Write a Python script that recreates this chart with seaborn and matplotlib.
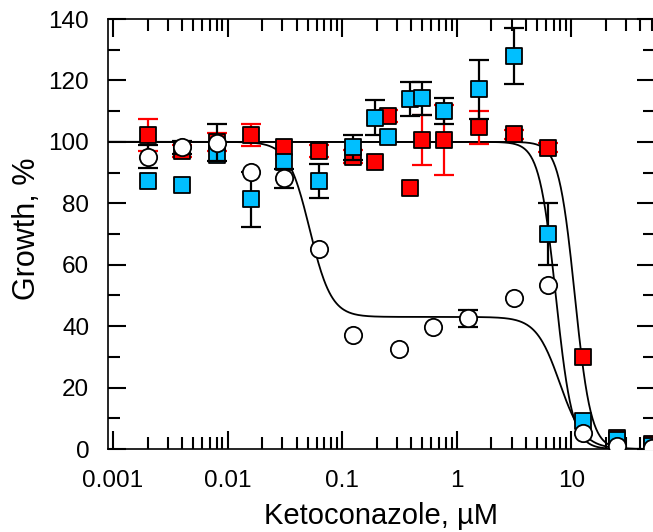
import numpy as np
import pandas as pd
import matplotlib
matplotlib.use("Agg")
import matplotlib.pyplot as plt
import seaborn as sns
from matplotlib.ticker import FixedLocator, FixedFormatter, MultipleLocator, NullFormatter

# ---------------- data ----------------
conc_sq = [0.002, 0.004, 0.008, 0.016, 0.031, 0.0625, 0.125, 0.195, 0.25, 0.39,
           0.5, 0.78, 1.5625, 3.125, 6.25, 12.5, 25, 50]
growth_red = [102.2, 97.0, 100.0, 102.2, 98.2, 97.1, 95.2, 93.3, 108.4, 84.9,
              100.6, 100.6, 104.7, 102.4, 98.1, 29.9, 3.7, 1.5]
err_red = [5.2, 2.0, 3.0, 3.6, 0, 2.0, 2.0, 0, 2.0, 0,
           8.0, 11.5, 5.5, 1.5, 1.5, 0, 0, 0]
growth_blue = [87.4, 85.8, 95.8, 81.3, 93.6, 87.2, 98.2, 107.9, 101.7, 113.9,
               114.2, 110.0, 117.1, 128.0, 70.0, 9.0, 2.9, 1.0]
err_blue = [0, 0, 0, 9.0, 0, 5.6, 4.0, 5.8, 0, 5.6,
            5.4, 4.3, 9.7, 9.1, 10.0, 0, 0, 0]
conc_circ = [0.002, 0.004, 0.008, 0.016, 0.031, 0.0625, 0.125, 0.3125, 0.625,
             1.25, 3.125, 6.25, 12.5, 25, 50]
growth_circ = [95.2, 98.2, 99.7, 90.3, 88.1, 65.2, 37.1, 32.5, 39.8,
               42.5, 49.3, 53.4, 5.1, 1.1, 0.4]
err_circ = [3.8, 2.0, 6.0, 0, 3.0, 0, 0, 0, 0,
            2.9, 0, 0, 0, 0, 0]

# fitted Hill-curve parameters: top, IC50, slope
fit_red = [100.0, 10.7, 6.2]
fit_blue = [100.0, 7.3, 6.0]
# biphasic fit for circles: (step1 amplitude, IC50, slope, plateau, IC50, slope)
fit_circ = [57.0, 0.052, 4.6, 43.0, 7.9, 4.2]

xtick_vals = [0.001, 0.01, 0.1, 1, 10]
xtick_labels = ["0.001", "0.01", "0.1", "1", "10"]
ytick_vals = [0, 20, 40, 60, 80, 100, 120, 140]

RED = "#FF0000"
BLUE = "#00BFFF"

# ---------------- style ----------------
sns.set_theme(style="ticks")
plt.rcParams["font.family"] = ["Liberation Sans", "DejaVu Sans"]
plt.rcParams["axes.linewidth"] = 1.2

fig = plt.figure(figsize=(6.53, 5.32), dpi=100)
ax = fig.add_axes([108 / 653, 83 / 532, 547 / 653, 430 / 532])
ax.set_facecolor("white")

# ---------------- curves ----------------
xc = np.logspace(np.log10(0.0009), np.log10(50), 600)

def hill(x, top, ic50, n):
    return top / (1.0 + (x / ic50) ** n)

curves = pd.DataFrame({
    "x": np.concatenate([xc, xc, xc]),
    "y": np.concatenate([
        hill(xc, *fit_red),
        hill(xc, *fit_blue),
        hill(xc, *fit_circ[:3]) + hill(xc, *fit_circ[3:]),
    ]),
    "fit": ["red"] * len(xc) + ["blue"] * len(xc) + ["circ"] * len(xc),
})
sns.lineplot(data=curves, x="x", y="y", units="fit", estimator=None,
             color="black", linewidth=1.3, ax=ax, zorder=1, legend=False)

# ---------------- points ----------------
def errs(xs, ys, es, color, z):
    xs = np.array(xs); ys = np.array(ys); es = np.array(es)
    m = es > 0
    ax.errorbar(xs[m], ys[m], yerr=es[m], fmt="none", ecolor=color,
                elinewidth=1.6, capsize=7, capthick=1.6, zorder=z)

errs(conc_sq, growth_red, err_red, RED, 1.5)
sns.scatterplot(x=conc_sq, y=growth_red, marker="s", s=145, color=RED,
                edgecolor="black", linewidth=1.3, ax=ax, zorder=2)
errs(conc_sq, growth_blue, err_blue, "black", 2.5)
sns.scatterplot(x=conc_sq, y=growth_blue, marker="s", s=145, color=BLUE,
                edgecolor="black", linewidth=1.3, ax=ax, zorder=3)
errs(conc_circ, growth_circ, err_circ, "black", 3.5)
sns.scatterplot(x=conc_circ, y=growth_circ, marker="o", s=155, color="white",
                edgecolor="black", linewidth=1.3, ax=ax, zorder=4)

# ---------------- axes ----------------
ax.set_xscale("log")
ax.set_xlim(0.000904, 53.6)
ax.set_ylim(0, 140)

ax.xaxis.set_major_locator(FixedLocator(xtick_vals))
ax.xaxis.set_major_formatter(FixedFormatter(xtick_labels))
minors = [m * 10.0 ** d for d in range(-3, 2) for m in range(2, 10)]
ax.xaxis.set_minor_locator(FixedLocator(minors))
ax.xaxis.set_minor_formatter(NullFormatter())
ax.yaxis.set_major_locator(FixedLocator(ytick_vals))
ax.yaxis.set_minor_locator(MultipleLocator(10))

ax.tick_params(which="both", direction="in", top=True, right=True,
               color="black", width=1.5)
ax.tick_params(which="major", length=13)
ax.tick_params(which="minor", length=8.5)
ax.tick_params(axis="x", which="major", labelsize=17.5, pad=15, labelcolor="black")
ax.tick_params(axis="y", which="major", labelsize=17.5, pad=13.5, labelcolor="black")

for sp in ax.spines.values():
    sp.set_color("black")
    sp.set_linewidth(1.2)

ax.set_xlabel("Ketoconazole, µM", fontsize=21, color="black")
ax.set_ylabel("Growth, %", fontsize=22, color="black")
ax.xaxis.set_label_coords(0.5, (449 - 502) / 430)
ax.yaxis.set_label_coords((42 - 108) / 547, 0.512)

fig.savefig("out.png", dpi=100)
